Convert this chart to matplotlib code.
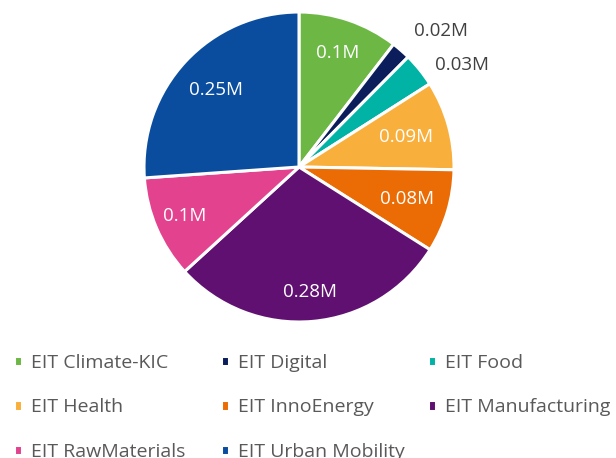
import math
import matplotlib
matplotlib.use('Agg')
import matplotlib.pyplot as plt

# slices, clockwise from 12 o'clock (values in millions)
names = ['EIT Climate-KIC', 'EIT Digital', 'EIT Food', 'EIT Health',
         'EIT InnoEnergy', 'EIT Manufacturing', 'EIT RawMaterials',
         'EIT Urban Mobility']
values = [0.100, 0.019, 0.034, 0.089, 0.083, 0.280, 0.102, 0.250]
colors = ['#6DB845', '#0B1E5B', '#00B3A4', '#F9AF3C', '#EB6C04',
          '#601070', '#E3428E', '#0A4D9F']

plt.rcParams['font.family'] = ['Open Sans', 'DejaVu Sans']

fig = plt.figure(figsize=(6.16, 4.58), dpi=100)
ax = fig.add_axes([144 / 616, 1 - 322 / 458, 310 / 616, 310 / 458])

wedges, _ = ax.pie(values, colors=colors, startangle=90, counterclock=False,
                   radius=1.0,
                   wedgeprops=dict(edgecolor='white', linewidth=2.2))
ax.set_xlim(-1, 1)
ax.set_ylim(-1, 1)
ax.set_aspect('equal')
ax.axis('off')

# label placement (radius as fraction of pie, angle nudge in degrees)
label_r = [0.78, 1.15, 1.10, 0.72, 0.73, 0.81, 0.80, 0.73]
label_da = [0, 1, -2, 0, 0, 0, 0, 0]
outside = [1, 2]

total = sum(values)
ang = 90.0
for i, v in enumerate(values):
    span = v / total * 360
    mid = ang - span / 2 + label_da[i]
    ang -= span
    txt = '%gM' % round(v, 2)
    a = math.radians(mid)
    x, y = label_r[i] * math.cos(a), label_r[i] * math.sin(a)
    if i in outside:
        ax.text(x, y, txt, ha='left', va='center', color='#404040',
                fontsize=13.5)
    else:
        ax.text(x, y, txt, ha='center', va='center', color='white',
                fontsize=13.5)

# legend: three fixed-width columns, row-major order
col_x = [14 / 616, 221 / 616, 428 / 616]
for c in range(3):
    fig.legend(wedges[c::3], names[c::3], loc='upper left',
               bbox_to_anchor=(col_x[c], 1 - 354 / 458), frameon=False,
               fontsize=14, labelcolor='#595959', handlelength=0.42,
               handleheight=0.42, handletextpad=0.45, labelspacing=1.36,
               borderpad=0, borderaxespad=0)

fig.savefig('out.png', dpi=100)
